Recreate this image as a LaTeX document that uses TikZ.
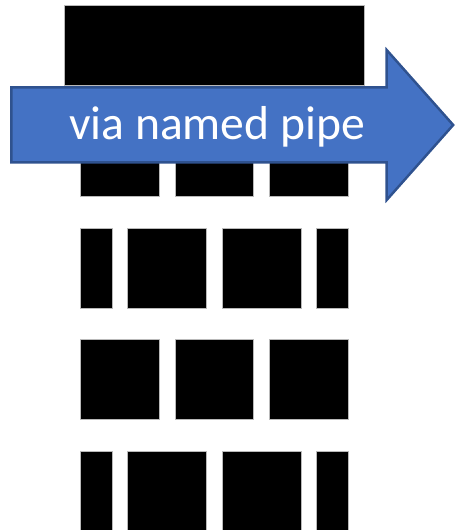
\documentclass[tikz,border=0pt]{standalone}
\usepackage{fontspec}
\setmainfont{Carlito}
\definecolor{pipeblue}{HTML}{4472C4}
\definecolor{pipeedge}{HTML}{2F528F}
\tikzset{
  brick/.style={draw=gray!55, fill=black, line width=0.4pt, inner sep=0pt,
    minimum width=1.574cm, minimum height=1.6cm},
  halfbrick/.style={brick, minimum width=0.634cm},
  topbrick/.style={brick, minimum width=5.994cm},
}
\begin{document}
\begin{tikzpicture}[x=0.02cm,y=-0.02cm]
        \useasboundingbox (0,0) rectangle (454,530);

        \begin{scope}
          % row 1
          \node[topbrick] (r1)  at (214.2,45.3)  {};
          % row 2
          \node[brick] (r2a)  at (119.7,156.7) {};
          \node[brick] (r2b)  at (214.3,156.7) {};
          \node[brick] (r2c)  at (308.8,156.7) {};
          % row 3
          \node[halfbrick] (r3a)  at (96.2,268.3)  {};
          \node[brick]     (r3b)  at (167.0,268.3) {};
          \node[brick]     (r3c)  at (261.7,268.3) {};
          \node[halfbrick] (r3d)  at (332.5,268.3) {};
          % row 4
          \node[brick] (r4a)  at (119.7,379.8) {};
          \node[brick] (r4b)  at (214.3,379.8) {};
          \node[brick] (r4c)  at (308.8,379.8) {};
          % row 5
          \node[halfbrick] (r5a)  at (96.2,491)  {};
          \node[brick]     (r5b)  at (167.0,491) {};
          \node[brick]     (r5c)  at (261.7,491) {};
          \node[halfbrick] (r5d)  at (332.5,491) {};
        \end{scope}

        % the pipe arrow
        \draw[fill=pipeblue, draw=pipeedge, line width=1.4pt, line join=miter]
          (11.3,87.3) -- (386.7,87.3) -- (386.7,50) -- (453.2,125)
          -- (386.7,200) -- (386.7,162.3) -- (11.3,162.3) -- cycle;

        \node[anchor=base, text=white, inner sep=0pt,
              font=\fontsize{27.1}{32}\selectfont] (pipe) at (217,140) {via named pipe};

      \end{tikzpicture}
\end{document}
